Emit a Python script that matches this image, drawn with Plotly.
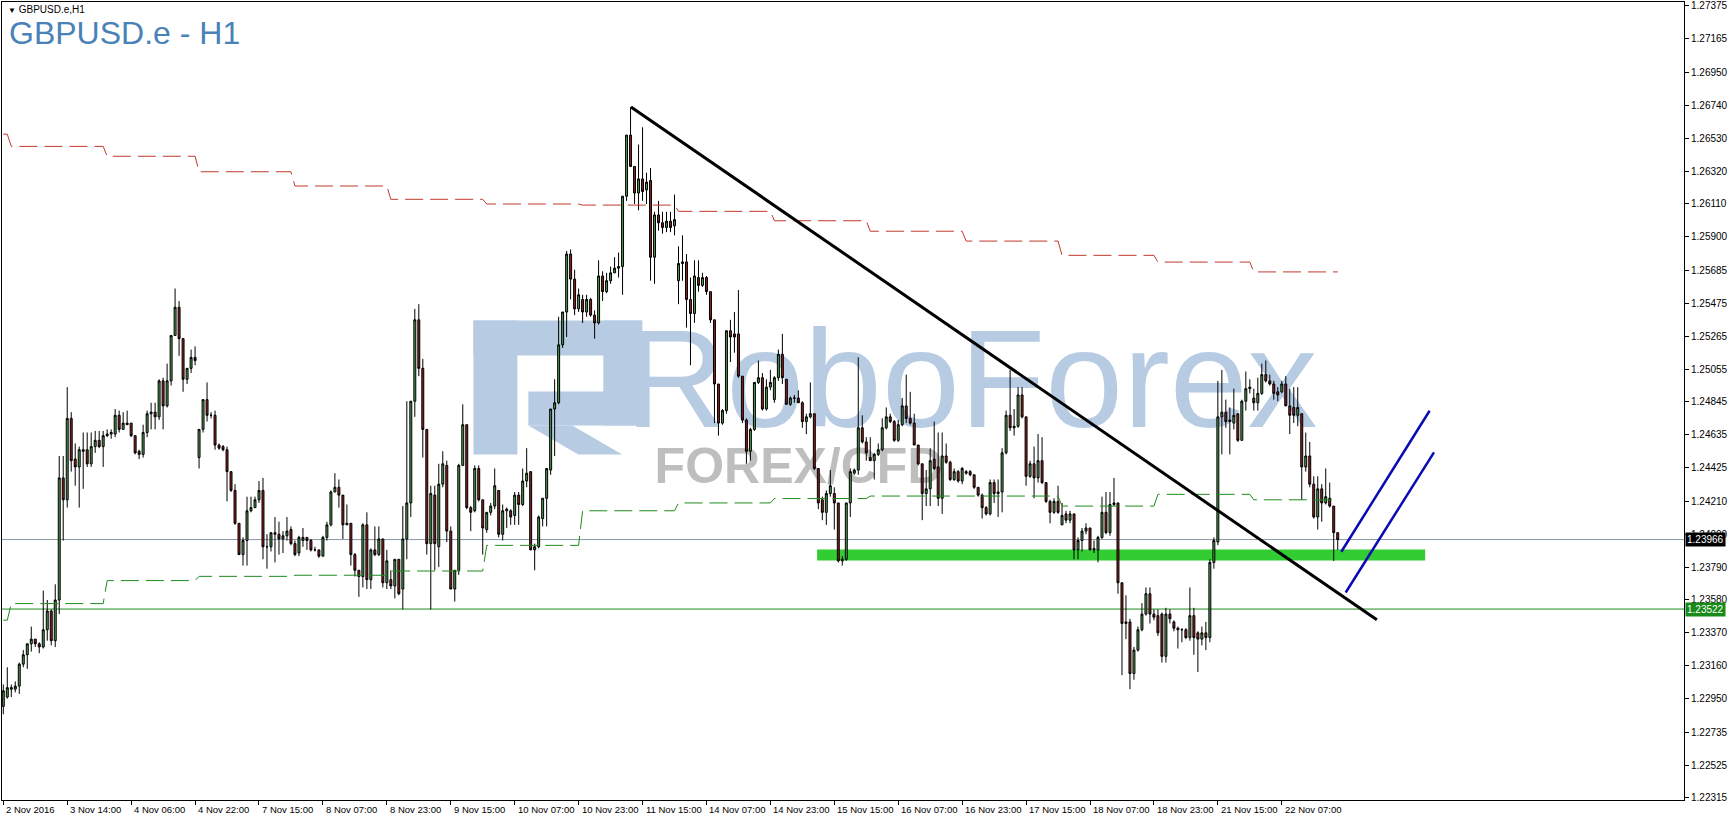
import plotly.graph_objects as go

# GBPUSD.e H1 bars, bar index = x (first bar 2 Nov 2016 22:00)
opens = [
    1.2290, 1.2296, 1.2301, 1.2301, 1.2303, 1.2317, 1.2323, 1.2330, 1.2333, 1.2330,
    1.2328, 1.2339, 1.2351, 1.2332, 1.2358, 1.2436, 1.2422, 1.2474, 1.2448, 1.2443,
    1.2454, 1.2454, 1.2445, 1.2456, 1.2460, 1.2456, 1.2463, 1.2464, 1.2464, 1.2476,
    1.2467, 1.2471, 1.2471, 1.2463, 1.2453, 1.2451, 1.2465, 1.2477, 1.2478, 1.2475,
    1.2498, 1.2482, 1.2498, 1.2527, 1.2545, 1.2525, 1.2499, 1.2506, 1.2513, 1.2449,
    1.2467, 1.2486, 1.2476, 1.2476, 1.2457, 1.2456, 1.2454, 1.2440, 1.2428, 1.2407,
    1.2387, 1.2396, 1.2415, 1.2417, 1.2422, 1.2428, 1.2392, 1.2392, 1.2401, 1.2400,
    1.2397, 1.2399, 1.2403, 1.2394, 1.2388, 1.2396, 1.2398, 1.2396, 1.2390, 1.2390,
    1.2386, 1.2398, 1.2406, 1.2427, 1.2430, 1.2425, 1.2406, 1.2407, 1.2387, 1.2377,
    1.2373, 1.2406, 1.2371, 1.2390, 1.2387, 1.2397, 1.2369, 1.2371, 1.2367, 1.2384,
    1.2365, 1.2397, 1.2420, 1.2485, 1.2537, 1.2506, 1.2467, 1.2394, 1.2425, 1.2392,
    1.2432, 1.2444, 1.2402, 1.2365, 1.2377, 1.2444, 1.2470, 1.2417, 1.2415, 1.2442,
    1.2422, 1.2403, 1.2414, 1.2418, 1.2428, 1.2400, 1.2415, 1.2415, 1.2412, 1.2425,
    1.2419, 1.2434, 1.2440, 1.2390, 1.2392, 1.2410, 1.2423, 1.2441, 1.2480, 1.2484,
    1.2521, 1.2542, 1.2579, 1.2563, 1.2544, 1.2550, 1.2542, 1.2550, 1.2540, 1.2535,
    1.2565, 1.2555, 1.2562, 1.2567, 1.2570, 1.2571, 1.2616, 1.2655, 1.2635, 1.2618,
    1.2627, 1.2620, 1.2626, 1.2577, 1.2604, 1.2599, 1.2596, 1.2600, 1.2597, 1.2562,
    1.2573, 1.2574, 1.2550, 1.2541, 1.2564, 1.2559, 1.2564, 1.2555, 1.2537, 1.2496,
    1.2471, 1.2479, 1.2530, 1.2528, 1.2528, 1.2501, 1.2473, 1.2453, 1.2467, 1.2497,
    1.2500, 1.2480, 1.2494, 1.2486, 1.2500, 1.2515, 1.2499, 1.2483, 1.2487, 1.2487,
    1.2484, 1.2472, 1.2475, 1.2477, 1.2442, 1.2422, 1.2414, 1.2426, 1.2426, 1.2420,
    1.2383, 1.2384, 1.2420, 1.2439, 1.2441, 1.2468, 1.2459, 1.2449, 1.2447, 1.2451,
    1.2454, 1.2468, 1.2475, 1.2472, 1.2460, 1.2470, 1.2482, 1.2474, 1.2471, 1.2457,
    1.2445, 1.2426, 1.2429, 1.2448, 1.2443, 1.2423, 1.2450, 1.2446, 1.2435, 1.2440,
    1.2434, 1.2439, 1.2440, 1.2438, 1.2430, 1.2425, 1.2417, 1.2413, 1.2433, 1.2426,
    1.2427, 1.2452, 1.2476, 1.2468, 1.2469, 1.2489, 1.2475, 1.2437, 1.2445, 1.2436,
    1.2447, 1.2433, 1.2421, 1.2414, 1.2421, 1.2406, 1.2413, 1.2409, 1.2413, 1.2390,
    1.2396, 1.2402, 1.2404, 1.2390, 1.2390, 1.2398, 1.2414, 1.2401, 1.2419, 1.2420,
    1.2369, 1.2343, 1.2344, 1.2311, 1.2326, 1.2339, 1.2349, 1.2362, 1.2349, 1.2348,
    1.2349, 1.2322, 1.2349, 1.2344, 1.2340, 1.2339, 1.2339, 1.2334, 1.2348, 1.2337,
    1.2333, 1.2337, 1.2334, 1.2382, 1.2395, 1.2475, 1.2478, 1.2472, 1.2471, 1.2477,
    1.2460, 1.2485, 1.2493, 1.2487, 1.2484, 1.2490, 1.2502, 1.2498, 1.2496, 1.2491,
    1.2491, 1.2496, 1.2482, 1.2481, 1.2476, 1.2477, 1.2443, 1.2450, 1.2432, 1.2411,
    1.2429, 1.2420, 1.2423, 1.2418, 1.2401,
]
highs = [
    1.2304, 1.2315, 1.2304, 1.2306, 1.2318, 1.2326, 1.2330, 1.2341, 1.2333, 1.2331,
    1.2364, 1.2358, 1.2352, 1.2368, 1.2450, 1.2450, 1.2494, 1.2478, 1.2458, 1.2456,
    1.2465, 1.2465, 1.2465, 1.2466, 1.2466, 1.2466, 1.2467, 1.2467, 1.2480, 1.2479,
    1.2478, 1.2479, 1.2471, 1.2463, 1.2454, 1.2470, 1.2479, 1.2484, 1.2484, 1.2499,
    1.2500, 1.2509, 1.2527, 1.2557, 1.2549, 1.2525, 1.2506, 1.2518, 1.2520, 1.2467,
    1.2486, 1.2497, 1.2478, 1.2479, 1.2458, 1.2457, 1.2456, 1.2440, 1.2432, 1.2407,
    1.2398, 1.2424, 1.2424, 1.2424, 1.2434, 1.2436, 1.2400, 1.2401, 1.2411, 1.2408,
    1.2402, 1.2411, 1.2405, 1.2396, 1.2399, 1.2404, 1.2398, 1.2397, 1.2392, 1.2390,
    1.2399, 1.2408, 1.2428, 1.2439, 1.2435, 1.2425, 1.2419, 1.2407, 1.2388, 1.2377,
    1.2407, 1.2414, 1.2391, 1.2405, 1.2405, 1.2397, 1.2390, 1.2377, 1.2384, 1.2384,
    1.2418, 1.2485, 1.2485, 1.2544, 1.2547, 1.2512, 1.2467, 1.2431, 1.2431, 1.2445,
    1.2453, 1.2447, 1.2405, 1.2377, 1.2445, 1.2483, 1.2470, 1.2418, 1.2444, 1.2444,
    1.2422, 1.2414, 1.2420, 1.2442, 1.2428, 1.2419, 1.2417, 1.2416, 1.2427, 1.2427,
    1.2442, 1.2455, 1.2440, 1.2394, 1.2412, 1.2423, 1.2442, 1.2480, 1.2499, 1.2539,
    1.2542, 1.2581, 1.2582, 1.2569, 1.2557, 1.2553, 1.2553, 1.2551, 1.2543, 1.2575,
    1.2568, 1.2567, 1.2571, 1.2577, 1.2580, 1.2616, 1.2655, 1.2673, 1.2635, 1.2649,
    1.2660, 1.2631, 1.2634, 1.2606, 1.2613, 1.2606, 1.2606, 1.2606, 1.2617, 1.2584,
    1.2591, 1.2579, 1.2564, 1.2575, 1.2575, 1.2567, 1.2565, 1.2555, 1.2537, 1.2496,
    1.2480, 1.2530, 1.2537, 1.2542, 1.2556, 1.2501, 1.2474, 1.2468, 1.2497, 1.2511,
    1.2503, 1.2499, 1.2505, 1.2501, 1.2518, 1.2528, 1.2499, 1.2488, 1.2489, 1.2492,
    1.2485, 1.2477, 1.2497, 1.2477, 1.2442, 1.2424, 1.2428, 1.2441, 1.2430, 1.2420,
    1.2386, 1.2420, 1.2442, 1.2442, 1.2513, 1.2476, 1.2462, 1.2462, 1.2452, 1.2458,
    1.2474, 1.2481, 1.2477, 1.2473, 1.2473, 1.2487, 1.2502, 1.2491, 1.2477, 1.2457,
    1.2445, 1.2441, 1.2455, 1.2472, 1.2465, 1.2465, 1.2458, 1.2447, 1.2442, 1.2441,
    1.2443, 1.2441, 1.2441, 1.2438, 1.2430, 1.2426, 1.2418, 1.2435, 1.2435, 1.2435,
    1.2455, 1.2479, 1.2505, 1.2480, 1.2494, 1.2494, 1.2475, 1.2447, 1.2456, 1.2464,
    1.2462, 1.2433, 1.2422, 1.2423, 1.2431, 1.2420, 1.2415, 1.2415, 1.2413, 1.2398,
    1.2404, 1.2407, 1.2404, 1.2396, 1.2399, 1.2424, 1.2427, 1.2427, 1.2436, 1.2420,
    1.2369, 1.2361, 1.2346, 1.2328, 1.2341, 1.2356, 1.2366, 1.2366, 1.2352, 1.2352,
    1.2350, 1.2353, 1.2352, 1.2345, 1.2341, 1.2340, 1.2340, 1.2366, 1.2353, 1.2338,
    1.2341, 1.2344, 1.2384, 1.2398, 1.2498, 1.2505, 1.2486, 1.2481, 1.2493, 1.2477,
    1.2486, 1.2504, 1.2499, 1.2493, 1.2500, 1.2509, 1.2511, 1.2502, 1.2498, 1.2494,
    1.2498, 1.2501, 1.2493, 1.2494, 1.2494, 1.2477, 1.2465, 1.2459, 1.2437, 1.2437,
    1.2432, 1.2442, 1.2433, 1.2418, 1.2401,
]
lows = [
    1.2285, 1.2295, 1.2296, 1.2299, 1.2298, 1.2315, 1.2314, 1.2325, 1.2328, 1.2324,
    1.2327, 1.2332, 1.2329, 1.2328, 1.2349, 1.2396, 1.2417, 1.2440, 1.2431, 1.2417,
    1.2429, 1.2443, 1.2443, 1.2452, 1.2455, 1.2443, 1.2462, 1.2461, 1.2462, 1.2465,
    1.2467, 1.2470, 1.2462, 1.2451, 1.2448, 1.2449, 1.2462, 1.2467, 1.2467, 1.2473,
    1.2467, 1.2481, 1.2495, 1.2527, 1.2514, 1.2491, 1.2496, 1.2503, 1.2508, 1.2442,
    1.2465, 1.2472, 1.2474, 1.2454, 1.2454, 1.2453, 1.2421, 1.2427, 1.2406, 1.2387,
    1.2380, 1.2380, 1.2414, 1.2417, 1.2420, 1.2384, 1.2378, 1.2389, 1.2382, 1.2387,
    1.2388, 1.2396, 1.2393, 1.2386, 1.2386, 1.2392, 1.2390, 1.2389, 1.2389, 1.2385,
    1.2386, 1.2396, 1.2405, 1.2427, 1.2417, 1.2397, 1.2406, 1.2380, 1.2373, 1.2360,
    1.2366, 1.2365, 1.2365, 1.2386, 1.2386, 1.2366, 1.2365, 1.2365, 1.2359, 1.2361,
    1.2352, 1.2384, 1.2411, 1.2475, 1.2501, 1.2449, 1.2387, 1.2352, 1.2377, 1.2379,
    1.2430, 1.2395, 1.2365, 1.2357, 1.2374, 1.2444, 1.2416, 1.2402, 1.2414, 1.2421,
    1.2387, 1.2401, 1.2412, 1.2416, 1.2398, 1.2396, 1.2404, 1.2406, 1.2406, 1.2406,
    1.2418, 1.2430, 1.2390, 1.2377, 1.2391, 1.2405, 1.2405, 1.2438, 1.2450, 1.2483,
    1.2519, 1.2526, 1.2550, 1.2540, 1.2542, 1.2535, 1.2539, 1.2539, 1.2525, 1.2534,
    1.2549, 1.2554, 1.2560, 1.2567, 1.2564, 1.2553, 1.2613, 1.2635, 1.2611, 1.2607,
    1.2613, 1.2611, 1.2562, 1.2560, 1.2594, 1.2592, 1.2593, 1.2593, 1.2591, 1.2547,
    1.2562, 1.2532, 1.2508, 1.2535, 1.2555, 1.2558, 1.2553, 1.2535, 1.2471, 1.2463,
    1.2470, 1.2477, 1.2510, 1.2516, 1.2500, 1.2471, 1.2445, 1.2447, 1.2466, 1.2496,
    1.2479, 1.2479, 1.2492, 1.2484, 1.2498, 1.2496, 1.2483, 1.2482, 1.2484, 1.2484,
    1.2468, 1.2464, 1.2474, 1.2441, 1.2416, 1.2409, 1.2406, 1.2424, 1.2403, 1.2382,
    1.2380, 1.2383, 1.2411, 1.2438, 1.2438, 1.2458, 1.2447, 1.2447, 1.2435, 1.2450,
    1.2453, 1.2467, 1.2471, 1.2459, 1.2459, 1.2469, 1.2471, 1.2470, 1.2457, 1.2444,
    1.2409, 1.2418, 1.2418, 1.2441, 1.2418, 1.2413, 1.2445, 1.2434, 1.2434, 1.2433,
    1.2432, 1.2438, 1.2437, 1.2429, 1.2424, 1.2410, 1.2412, 1.2412, 1.2420, 1.2411,
    1.2414, 1.2451, 1.2466, 1.2463, 1.2468, 1.2474, 1.2431, 1.2436, 1.2423, 1.2433,
    1.2432, 1.2420, 1.2407, 1.2413, 1.2413, 1.2406, 1.2407, 1.2407, 1.2384, 1.2384,
    1.2389, 1.2400, 1.2390, 1.2388, 1.2382, 1.2397, 1.2400, 1.2399, 1.2418, 1.2362,
    1.2310, 1.2333, 1.2301, 1.2307, 1.2325, 1.2338, 1.2348, 1.2343, 1.2345, 1.2335,
    1.2318, 1.2318, 1.2343, 1.2338, 1.2327, 1.2331, 1.2333, 1.2332, 1.2323, 1.2312,
    1.2329, 1.2326, 1.2331, 1.2378, 1.2393, 1.2451, 1.2468, 1.2451, 1.2467, 1.2459,
    1.2460, 1.2479, 1.2490, 1.2479, 1.2479, 1.2489, 1.2497, 1.2495, 1.2486, 1.2485,
    1.2490, 1.2482, 1.2464, 1.2471, 1.2469, 1.2422, 1.2440, 1.2430, 1.2410, 1.2403,
    1.2408, 1.2419, 1.2417, 1.2383, 1.2390,
]
closes = [
    1.2300, 1.2302, 1.2302, 1.2303, 1.2317, 1.2323, 1.2330, 1.2333, 1.2330, 1.2328,
    1.2339, 1.2351, 1.2332, 1.2358, 1.2436, 1.2422, 1.2474, 1.2447, 1.2443, 1.2454,
    1.2453, 1.2445, 1.2456, 1.2460, 1.2456, 1.2463, 1.2464, 1.2465, 1.2476, 1.2467,
    1.2471, 1.2470, 1.2463, 1.2452, 1.2451, 1.2465, 1.2477, 1.2478, 1.2475, 1.2498,
    1.2482, 1.2498, 1.2527, 1.2545, 1.2525, 1.2499, 1.2506, 1.2513, 1.2511, 1.2467,
    1.2486, 1.2476, 1.2476, 1.2457, 1.2455, 1.2454, 1.2440, 1.2428, 1.2407, 1.2387,
    1.2396, 1.2415, 1.2417, 1.2422, 1.2428, 1.2392, 1.2392, 1.2401, 1.2400, 1.2397,
    1.2399, 1.2402, 1.2394, 1.2387, 1.2398, 1.2398, 1.2396, 1.2390, 1.2390, 1.2386,
    1.2398, 1.2406, 1.2427, 1.2430, 1.2425, 1.2406, 1.2407, 1.2387, 1.2377, 1.2373,
    1.2406, 1.2371, 1.2390, 1.2387, 1.2397, 1.2369, 1.2383, 1.2367, 1.2384, 1.2362,
    1.2397, 1.2420, 1.2485, 1.2537, 1.2506, 1.2467, 1.2394, 1.2426, 1.2394, 1.2432,
    1.2445, 1.2402, 1.2365, 1.2377, 1.2444, 1.2470, 1.2417, 1.2414, 1.2442, 1.2422,
    1.2404, 1.2414, 1.2418, 1.2431, 1.2400, 1.2415, 1.2416, 1.2411, 1.2425, 1.2419,
    1.2434, 1.2439, 1.2390, 1.2392, 1.2411, 1.2423, 1.2442, 1.2480, 1.2484, 1.2521,
    1.2542, 1.2579, 1.2563, 1.2544, 1.2553, 1.2542, 1.2550, 1.2540, 1.2535, 1.2565,
    1.2555, 1.2562, 1.2567, 1.2570, 1.2571, 1.2616, 1.2655, 1.2635, 1.2618, 1.2627,
    1.2619, 1.2625, 1.2577, 1.2604, 1.2599, 1.2596, 1.2600, 1.2596, 1.2601, 1.2573,
    1.2574, 1.2550, 1.2541, 1.2565, 1.2559, 1.2564, 1.2555, 1.2537, 1.2496, 1.2471,
    1.2479, 1.2530, 1.2526, 1.2526, 1.2501, 1.2473, 1.2453, 1.2467, 1.2497, 1.2500,
    1.2480, 1.2494, 1.2497, 1.2500, 1.2515, 1.2500, 1.2483, 1.2487, 1.2487, 1.2484,
    1.2472, 1.2475, 1.2477, 1.2442, 1.2420, 1.2414, 1.2426, 1.2431, 1.2420, 1.2383,
    1.2384, 1.2420, 1.2440, 1.2441, 1.2468, 1.2459, 1.2452, 1.2447, 1.2451, 1.2454,
    1.2468, 1.2475, 1.2472, 1.2460, 1.2470, 1.2482, 1.2474, 1.2471, 1.2457, 1.2445,
    1.2426, 1.2429, 1.2447, 1.2442, 1.2423, 1.2450, 1.2446, 1.2435, 1.2440, 1.2434,
    1.2442, 1.2440, 1.2438, 1.2430, 1.2425, 1.2417, 1.2413, 1.2433, 1.2426, 1.2427,
    1.2452, 1.2476, 1.2468, 1.2469, 1.2489, 1.2475, 1.2437, 1.2445, 1.2436, 1.2447,
    1.2433, 1.2421, 1.2414, 1.2421, 1.2414, 1.2412, 1.2409, 1.2413, 1.2390, 1.2396,
    1.2402, 1.2404, 1.2390, 1.2391, 1.2398, 1.2414, 1.2401, 1.2419, 1.2420, 1.2369,
    1.2343, 1.2344, 1.2311, 1.2326, 1.2339, 1.2349, 1.2362, 1.2349, 1.2347, 1.2337,
    1.2322, 1.2349, 1.2346, 1.2340, 1.2339, 1.2339, 1.2334, 1.2348, 1.2334, 1.2333,
    1.2337, 1.2334, 1.2382, 1.2396, 1.2475, 1.2478, 1.2472, 1.2473, 1.2476, 1.2460,
    1.2485, 1.2493, 1.2494, 1.2484, 1.2490, 1.2502, 1.2498, 1.2496, 1.2490, 1.2489,
    1.2496, 1.2482, 1.2476, 1.2476, 1.2481, 1.2443, 1.2450, 1.2432, 1.2411, 1.2429,
    1.2420, 1.2424, 1.2418, 1.2401, 1.23966,
]

# time axis: label every 16 bars
time_tick_bars = [0, 16, 32, 48, 64, 80, 96, 112, 128, 144, 160,
                  176, 192, 208, 224, 240, 256, 272, 288, 304, 320]
time_tick_text = ["2 Nov 2016", "3 Nov 14:00", "4 Nov 06:00", "4 Nov 22:00", "7 Nov 15:00",
                  "8 Nov 07:00", "8 Nov 23:00", "9 Nov 15:00", "10 Nov 07:00", "10 Nov 23:00",
                  "11 Nov 15:00", "14 Nov 07:00", "14 Nov 23:00", "15 Nov 15:00", "16 Nov 07:00",
                  "16 Nov 23:00", "17 Nov 15:00", "18 Nov 07:00", "18 Nov 23:00", "21 Nov 15:00",
                  "22 Nov 07:00"]

price_ticks = [1.27375, 1.27165, 1.26950, 1.26740, 1.26530, 1.26320, 1.26110, 1.25900,
               1.25685, 1.25475, 1.25265, 1.25055, 1.24845, 1.24635, 1.24425, 1.24210,
               1.24000, 1.23790, 1.23580, 1.23370, 1.23160, 1.22950, 1.22735, 1.22525,
               1.22315]

# daily step indicator levels (one value per trading day)
day_starts = [0, 2, 26, 49, 73, 97, 121, 145, 169, 193, 217, 241, 265, 289, 313]
red_levels = [1.26556, 1.26478, 1.26415, 1.26316, 1.26225, 1.26140, 1.26110, 1.26103,
              1.26063, 1.26003, 1.25936, 1.25873, 1.25782, 1.25739, 1.25676]
green_levels = [1.23451, 1.23557, 1.23704, 1.23731, 1.23738, 1.23765, 1.23929, 1.24150,
                1.24200, 1.24228, 1.24244, 1.24244, 1.24180, 1.24255, 1.24220]

bid_price = 1.23966
level_line = 1.23522

# drawn objects
trend_x = [157.1, 343.8]
trend_y = [1.26730, 1.23453]
channel_a_x = [334.9, 357.0]
channel_a_y = [1.23888, 1.24789]
channel_b_x = [336.0, 358.1]
channel_b_y = [1.23628, 1.24523]
zone_x = [203.7, 355.9]
zone_y = [1.23832, 1.23903]

FONT = "Liberation Sans, Arial, sans-serif"
LOGO_BLUE = "#B7CBE3"
LOGO_GRAY = "#BEBEBE"

# plot area in page pixels: x 2..1686, y 1..800
X0_PX, X1_PX, Y0_PX, Y1_PX = 2, 1686, 1, 800


def px_x(x):
    return (x - X0_PX) / (X1_PX - X0_PX)


def px_y(y):
    return 1 - (y - Y0_PX) / (Y1_PX - Y0_PX)


def day_steps(levels, last_bar):
    xs, ys = [], []
    for k, lvl in enumerate(levels):
        start = day_starts[k]
        end = day_starts[k + 1] - 1 if k + 1 < len(day_starts) else last_bar
        xs += [start, end]
        ys += [lvl, lvl]
    return xs, ys


bars = list(range(len(closes)))
last_bar = bars[-1]

fig = go.Figure()

fig.add_trace(go.Candlestick(
    x=bars, open=opens, high=highs, low=lows, close=closes,
    increasing=dict(line=dict(color="black", width=1), fillcolor="#4E9C4E"),
    decreasing=dict(line=dict(color="black", width=1), fillcolor="#8E1F1F"),
    whiskerwidth=0, hoverinfo="skip",
))

rx, ry = day_steps(red_levels, last_bar)
fig.add_trace(go.Scatter(x=rx, y=ry, mode="lines",
                         line=dict(color="#C0392B", width=1, dash="18px,7px"), hoverinfo="skip"))
gx, gy = day_steps(green_levels, last_bar)
fig.add_trace(go.Scatter(x=gx, y=gy, mode="lines",
                         line=dict(color="#1E8B1E", width=1, dash="18px,7px"), hoverinfo="skip"))

fig.add_trace(go.Scatter(x=trend_x, y=trend_y, mode="lines",
                         line=dict(color="black", width=3), hoverinfo="skip"))
fig.add_trace(go.Scatter(x=channel_a_x, y=channel_a_y, mode="lines",
                         line=dict(color="#0A0AB4", width=2.5), hoverinfo="skip"))
fig.add_trace(go.Scatter(x=channel_b_x, y=channel_b_y, mode="lines",
                         line=dict(color="#0A0AB4", width=2.5), hoverinfo="skip"))

# support zone and horizontal lines sit behind the candles
fig.add_shape(type="rect", xref="x", yref="y", x0=zone_x[0], x1=zone_x[1],
              y0=zone_y[0], y1=zone_y[1], fillcolor="#32CD32", line=dict(width=0), layer="below")
fig.add_shape(type="line", xref="paper", yref="y", x0=0, x1=1, y0=bid_price, y1=bid_price,
              line=dict(color="#8A97A3", width=1), layer="below")
fig.add_shape(type="line", xref="paper", yref="y", x0=0, x1=1, y0=level_line, y1=level_line,
              line=dict(color="#1E8B1E", width=1), layer="below")

# RoboForex watermark (behind the candles)
logo_rects = [
    (474, 320, 518, 454),
    (474, 320, 643, 355),
    (604, 320, 643, 425),
    (529, 391, 643, 425),
]
for x0, y0, x1, y1 in logo_rects:
    fig.add_shape(type="rect", xref="paper", yref="paper",
                  x0=px_x(x0), x1=px_x(x1), y0=px_y(y1), y1=px_y(y0),
                  fillcolor=LOGO_BLUE, line=dict(width=0), layer="below")
leg = [(529, 425), (573, 425), (623, 454), (579, 454)]
path = "M " + " L ".join(f"{px_x(a):.5f},{px_y(b):.5f}" for a, b in leg) + " Z"
fig.add_shape(type="path", xref="paper", yref="paper", path=path,
              fillcolor=LOGO_BLUE, line=dict(width=0), layer="below")
fig.add_shape(type="rect", xref="paper", yref="paper",
              x0=px_x(640), x1=px_x(1305), y0=px_y(427), y1=px_y(302),
              line=dict(width=0), fillcolor="rgba(0,0,0,0)", layer="below",
              label=dict(text="RoboForex", textposition="middle center",
                         font=dict(family=FONT, size=140, color=LOGO_BLUE)))
fig.add_shape(type="rect", xref="paper", yref="paper",
              x0=px_x(670), x1=px_x(930), y0=px_y(486), y1=px_y(436),
              line=dict(width=0), fillcolor="rgba(0,0,0,0)", layer="below",
              label=dict(text="<b>FOREX/CFD</b>", textposition="middle center",
                         font=dict(family=FONT, size=50, color=LOGO_GRAY)))

annotations = [
    dict(xref="paper", yref="paper", x=px_x(6), y=px_y(9), xanchor="left", yanchor="middle",
         text="<span style='font-size:8px'>▼</span> GBPUSD.e,H1", showarrow=False,
         font=dict(family=FONT, size=10, color="black")),
    dict(xref="paper", yref="paper", x=px_x(7), y=px_y(32), xanchor="left", yanchor="middle",
         text="GBPUSD.e - H1", showarrow=False,
         font=dict(family=FONT, size=32, color="#4A82B8")),
    dict(xref="paper", yref="y", x=1, y=bid_price, xanchor="left", yanchor="middle", xshift=1,
         text=f"{bid_price:.5f}", showarrow=False, bgcolor="black", borderpad=1,
         font=dict(family=FONT, size=10, color="white")),
    dict(xref="paper", yref="y", x=1, y=level_line, xanchor="left", yanchor="middle", xshift=1,
         text=f"{level_line:.5f}", showarrow=False, bgcolor="#178A17", borderpad=1,
         font=dict(family=FONT, size=10, color="white")),
]
for b, t in zip(time_tick_bars, time_tick_text):
    annotations.append(dict(xref="x", yref="paper", x=b, y=0, xanchor="left", yanchor="top",
                            yshift=-2, xshift=1, text=t, showarrow=False,
                            font=dict(family=FONT, size=9.5, color="black")))

x_lo = (X0_PX - 3.3) / 4
x_hi = (X1_PX - 3.3) / 4
y_hi = 1.27375 + (5 - Y0_PX) * 6.381e-5
y_lo = 1.27375 - (Y1_PX - 5) * 6.381e-5

fig.update_layout(
    width=1729, height=822,
    margin=dict(l=X0_PX, r=1729 - X1_PX, t=Y0_PX, b=822 - Y1_PX),
    paper_bgcolor="white", plot_bgcolor="white",
    showlegend=False,
    hovermode=False,
    font=dict(family=FONT, size=10, color="black"),
    annotations=annotations,
    xaxis=dict(range=[x_lo, x_hi], rangeslider=dict(visible=False), showgrid=False,
               zeroline=False, showline=True, linecolor="black", linewidth=1, mirror=True,
               tickmode="array", tickvals=time_tick_bars, ticks="outside", ticklen=4,
               tickcolor="black", showticklabels=False),
    yaxis=dict(range=[y_lo, y_hi], side="right", showgrid=False, zeroline=False,
               showline=True, linecolor="black", linewidth=1, mirror=True,
               tickmode="array", tickvals=price_ticks,
               ticktext=[f"{v:.5f}" for v in price_ticks],
               ticks="outside", ticklen=4, tickcolor="black",
               tickfont=dict(family=FONT, size=10, color="black")),
)

fig.write_html("out.html", config={"displayModeBar": False},
               post_script="document.body.style.margin='0px';")
